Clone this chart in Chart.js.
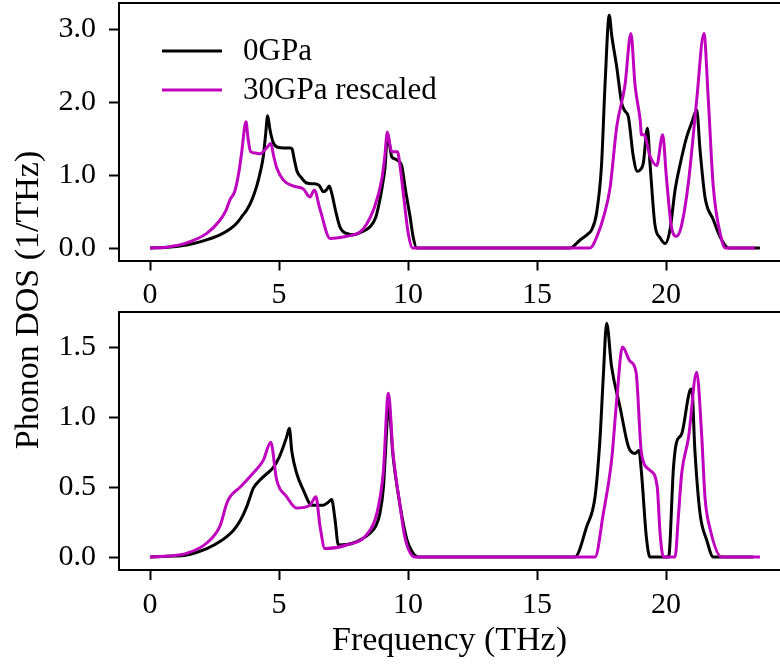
<!DOCTYPE html>
<html>
<head>
<meta charset="utf-8">
<script src="https://cdn.jsdelivr.net/npm/chart.js@4.4.1/dist/chart.umd.min.js"></script>
<style>
  html, body { margin: 0; background: #fff; }
  #wrap { position: relative; width: 780px; height: 668px; }
  #wrap canvas { position: absolute; left: 0; top: 0; }
</style>
</head>
<body>
<div id="wrap">
  <canvas id="topChart" width="780" height="668"></canvas>
  <canvas id="bottomChart" width="780" height="668"></canvas>
</div>
<script>
const seriesLabels = ["0GPa", "30GPa rescaled"];
const seriesColors = ["#000000", "#bf00bf"];

const xTicks = [0, 5, 10, 15, 20];
const yTicksTop = [0, 1, 2, 3];
const yTicksBottom = [0, 0.5, 1, 1.5];

// upper panel, 0 GPa
const freqTop0 = [0, 0.7, 1.42, 2.0, 2.71, 3.1, 3.36, 3.6, 3.75, 3.95, 4.13, 4.3, 4.39, 4.48, 4.56, 4.65, 4.78, 4.95, 5.2, 5.43, 5.5,
  5.6, 5.7, 5.85, 6.07, 6.3, 6.55, 6.72, 6.85, 6.95, 7.05, 7.2, 7.36, 7.5, 7.62, 7.88, 8.2, 8.53, 8.75, 8.91, 9.05, 9.11, 9.21,
  9.3, 9.37, 9.5, 9.6, 9.76, 9.9, 10.08, 10.2, 10.34, 16.28, 16.67, 17.0, 17.12, 17.31, 17.5, 17.64, 17.8, 17.9, 18.09, 18.28,
  18.4, 18.54, 18.73, 18.89, 19.0, 19.12, 19.28, 19.38, 19.57, 19.77, 19.97, 20.16, 20.35, 20.55, 20.8, 21.0, 21.19, 21.32,
  21.51, 21.83, 22.1, 22.42, 23.64];
const dosTop0 = [0, 0.01, 0.04, 0.09, 0.18, 0.26, 0.34, 0.45, 0.52, 0.66, 0.84, 1.08, 1.25, 1.55, 1.81, 1.62, 1.44, 1.38, 1.37, 1.37, 1.36,
  1.2, 1.05, 0.97, 0.89, 0.88, 0.86, 0.77, 0.8, 0.85, 0.74, 0.5, 0.29, 0.22, 0.2, 0.18, 0.22, 0.29, 0.42, 0.66, 0.95, 1.1, 1.57,
  1.38, 1.25, 1.22, 1.2, 1.12, 0.8, 0.43, 0.15, 0, 0, 0.11, 0.2, 0.25, 0.48, 1.13, 2.26, 3.19, 2.9, 2.48, 1.99,
  1.88, 1.8, 1.26, 1.05, 1.07, 1.16, 1.64, 1.16, 0.32, 0.14, 0.06, 0.26, 0.79, 1.15, 1.52, 1.72, 1.89, 1.34,
  0.7, 0.39, 0.15, 0, 0];

// upper panel, 30 GPa rescaled
const freqTop30 = [0, 0.7, 1.42, 2.2, 2.71, 2.95, 3.1, 3.29, 3.45, 3.55, 3.72, 3.8, 3.9, 4.1, 4.26, 4.52, 4.68, 4.8, 4.91, 5.17, 5.55,
  5.94, 6.2, 6.37, 6.59, 6.98, 7.3, 7.62, 8.14, 8.4, 8.66, 8.98, 9.1, 9.2, 9.28, 9.37, 9.59, 9.7, 9.85, 10.01, 10.18,
  17.05, 17.37, 17.6, 17.83, 18.09, 18.41, 18.64, 18.8, 19.0, 19.05, 19.15, 19.38, 19.64, 19.87, 20.02, 20.22, 20.41, 20.61,
  20.87, 21.19, 21.47, 21.64, 21.83, 22.16, 22.29, 23.45];
const dosTop30 = [0, 0.015, 0.07, 0.2, 0.38, 0.52, 0.66, 0.78, 1.05, 1.3, 1.73, 1.5, 1.32, 1.3, 1.29, 1.37, 1.43, 1.25, 1.1, 0.93, 0.85,
  0.81, 0.7, 0.79, 0.53, 0.13, 0.14, 0.16, 0.22, 0.33, 0.52, 0.93, 1.25, 1.59, 1.45, 1.32, 1.32, 1.1, 0.65, 0.2, 0,
  0, 0.2, 0.45, 0.82, 1.66, 2.23, 2.94, 2.23, 1.75, 1.55, 1.55, 1.26, 1.13, 1.55, 0.95, 0.27, 0.16, 0.32,
  0.9, 2.03, 2.94, 2.03, 0.85, 0.11, 0, 0];

// lower panel, 0 GPa
const freqBot0 = [0, 0.7, 1.42, 2.2, 2.71, 3.23, 3.5, 3.75, 3.9, 4.0, 4.26, 4.5, 4.78, 5.0, 5.17, 5.3, 5.4, 5.5, 5.68, 5.94, 6.27,
  6.5, 6.72, 6.9, 7.04, 7.17, 7.3, 7.88, 8.53, 8.75, 8.91, 9.05, 9.11, 9.25, 9.42, 9.69, 9.95, 10.15, 10.4,
  16.47, 16.93, 17.25, 17.44, 17.57, 17.7, 17.89, 18.22, 18.54, 18.8, 18.95, 19.05, 19.24, 19.38, 20.1, 20.29, 20.41,
  20.61, 20.93, 21.0, 21.12, 21.32, 21.58, 21.83, 23.38];
const dosBot0 = [0, 0.005, 0.014, 0.06, 0.11, 0.19, 0.26, 0.36, 0.44, 0.49, 0.55, 0.59, 0.64, 0.71, 0.79, 0.86, 0.92, 0.75, 0.6, 0.48, 0.37,
  0.37, 0.37, 0.39, 0.41, 0.27, 0.086, 0.1, 0.17, 0.22, 0.31, 0.5, 0.69, 1.08, 0.72, 0.37, 0.13, 0.04, 0,
  0, 0.22, 0.43, 0.84, 1.29, 1.67, 1.36, 1.07, 0.79, 0.74, 0.76, 0.6, 0.14, 0, 0, 0.64, 0.82,
  0.88, 1.19, 1.2, 0.76, 0.31, 0.12, 0, 0];

// lower panel, 30 GPa rescaled
const freqBot30 = [0, 0.7, 1.42, 2.2, 2.71, 2.97, 3.1, 3.5, 4.0, 4.39, 4.68, 4.91, 5.3, 5.68, 6.2, 6.43, 6.59, 6.78, 7.62, 8.4, 8.79,
  9.04, 9.24, 9.42, 9.69, 9.88, 10.27, 17.25, 17.57, 17.89, 18.09, 18.31, 18.6, 18.84, 19.05, 19.38, 19.66, 19.77, 19.9,
  20.35, 20.48, 20.61, 20.87, 21.19, 21.38, 21.51, 21.71, 22.16, 23.64];
const dosBot30 = [0, 0.007, 0.026, 0.1, 0.22, 0.38, 0.43, 0.5, 0.6, 0.69, 0.82, 0.55, 0.43, 0.35, 0.37, 0.43, 0.22, 0.06, 0.086, 0.16, 0.31,
  0.6, 1.17, 0.74, 0.37, 0.14, 0, 0, 0.31, 0.69, 1.12, 1.5, 1.4, 1.32, 0.74, 0.62, 0.5, 0.17, 0,
  0, 0.29, 0.6, 0.85, 1.32, 0.88, 0.43, 0.2, 0, 0];

const SERIF = "'Liberation Serif', 'Times New Roman', serif";

function pts(xs, ys) {
  return xs.map((x, i) => ({ x: x, y: ys[i] }));
}

function lineSet(idx, xs, ys) {
  return {
    label: seriesLabels[idx],
    data: pts(xs, ys),
    borderColor: seriesColors[idx],
    borderWidth: 3,
    pointRadius: 0,
    cubicInterpolationMode: "monotone",
    fill: false,
    // magenta drawn over black
    order: idx === 0 ? 2 : 1
  };
}

// top spine (no right spine, the box runs past the canvas)
const topSpine = {
  id: "topSpine",
  afterDraw(chart) {
    const { ctx, chartArea } = chart;
    ctx.save();
    ctx.strokeStyle = "#000";
    ctx.lineWidth = 2;
    ctx.beginPath();
    ctx.moveTo(chartArea.left - 1, chartArea.top);
    ctx.lineTo(chartArea.right, chartArea.top);
    ctx.stroke();
    ctx.restore();
  }
};

// legend in the upper-left of the top panel
const insideLegend = {
  id: "insideLegend",
  afterDraw(chart) {
    const ctx = chart.ctx;
    const rows = [51, 90];
    ctx.save();
    ctx.font = "31px " + SERIF;
    ctx.textBaseline = "middle";
    ctx.textAlign = "left";
    chart.data.datasets.forEach((ds, i) => {
      ctx.strokeStyle = ds.borderColor;
      ctx.lineWidth = 3;
      ctx.beginPath();
      ctx.moveTo(162, rows[i]);
      ctx.lineTo(222, rows[i]);
      ctx.stroke();
      ctx.fillStyle = "#000";
      ctx.fillText(ds.label, 243, rows[i] + 1);
    });
    ctx.restore();
  }
};

// shared y label for both panels
const sharedYLabel = {
  id: "sharedYLabel",
  afterDraw(chart) {
    const ctx = chart.ctx;
    ctx.save();
    ctx.translate(38, 300);
    ctx.rotate(-Math.PI / 2);
    ctx.font = "34px " + SERIF;
    ctx.fillStyle = "#000";
    ctx.textAlign = "center";
    ctx.textBaseline = "alphabetic";
    ctx.fillText("Phonon DOS (1/THz)", 0, 0);
    ctx.restore();
  }
};

function makePanel(id, datasets, opts) {
  const tickGrid = {
    display: true,
    drawOnChartArea: false,
    drawTicks: true,
    tickLength: 10,
    tickWidth: 2,
    tickColor: "#000"
  };
  return new Chart(document.getElementById(id), {
    type: "scatter",
    data: { datasets: datasets },
    options: {
      responsive: false,
      animation: false,
      showLine: true,
      layout: { padding: opts.padding },
      plugins: { legend: { display: false }, tooltip: { enabled: false } },
      scales: {
        x: {
          type: "linear",
          min: -31 / 25.8,
          max: 630 / 25.8,
          grid: tickGrid,
          border: { display: true, color: "#000", width: 2 },
          ticks: {
            color: "#000",
            padding: 7,
            font: { family: SERIF, size: 30 },
            callback: v => String(v)
          },
          afterBuildTicks: s => { s.ticks = xTicks.map(v => ({ value: v })); },
          afterFit: s => {
            s.height = opts.xHeight;
            s.paddingLeft = 0; s.paddingRight = 0;
          },
          title: opts.xTitle ? {
            display: true,
            text: opts.xTitle,
            color: "#000",
            font: { family: SERIF, size: 34 },
            padding: { top: 0, bottom: 7 }
          } : { display: false }
        },
        y: {
          type: "linear",
          min: opts.yMin,
          max: opts.yMax,
          grid: tickGrid,
          border: { display: true, color: "#000", width: 2 },
          ticks: {
            color: "#000",
            padding: 13,
            font: { family: SERIF, size: 30 },
            callback: v => v.toFixed(1)
          },
          afterBuildTicks: s => { s.ticks = opts.yTicks.map(v => ({ value: v })); },
          afterFit: s => {
            s.width = 119;
            s.paddingTop = 0; s.paddingBottom = 0;
          }
        }
      }
    },
    plugins: opts.plugins
  });
}

makePanel("topChart", [lineSet(0, freqTop0, dosTop0), lineSet(1, freqTop30, dosTop30)], {
  padding: { top: 3, left: 0, right: 0, bottom: 357.5 },
  xHeight: 50,
  yMin: -12.5 / 73,
  yMax: 245 / 73,
  yTicks: yTicksTop,
  plugins: [topSpine, insideLegend, sharedYLabel]
});

makePanel("bottomChart", [lineSet(0, freqBot0, dosBot0), lineSet(1, freqBot30, dosBot30)], {
  padding: { top: 312, left: 0, right: 0, bottom: 0 },
  xHeight: 98,
  xTitle: "Frequency (THz)",
  yMin: -13 / 140,
  yMax: 245 / 140,
  yTicks: yTicksBottom,
  plugins: [topSpine]
});
</script>
</body>
</html>
